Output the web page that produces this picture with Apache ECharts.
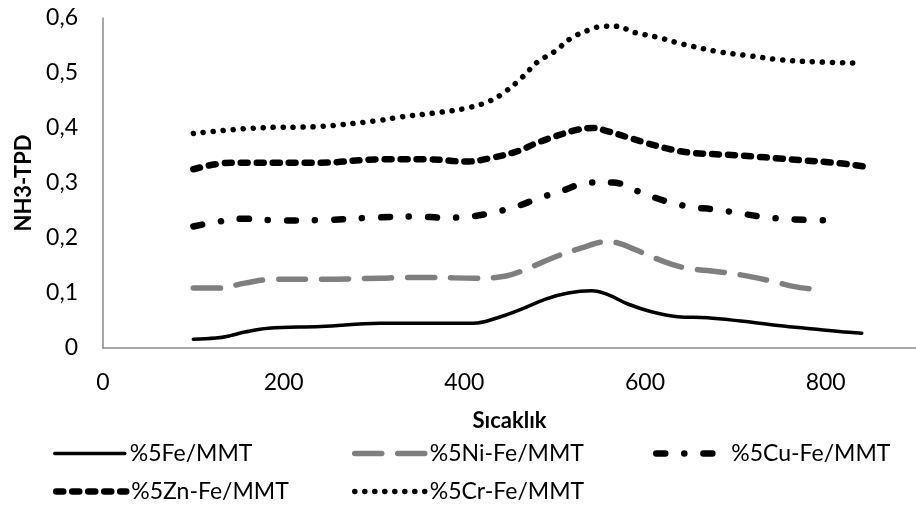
<!DOCTYPE html>
<html>
<head>
<meta charset="utf-8">
<script src="https://cdn.jsdelivr.net/npm/echarts@6/dist/echarts.min.js"></script>
<style>
  html, body { margin: 0; padding: 0; background: #fff; }
  #chart { width: 916px; height: 510px; }
</style>
</head>
<body>
<div id="chart"></div>
<script>
// NH3-TPD profiles of the Fe/MMT catalysts against temperature (Sıcaklık)
const seriesNames = ['%5Fe/MMT', '%5Ni-Fe/MMT', '%5Cu-Fe/MMT', '%5Zn-Fe/MMT', '%5Cr-Fe/MMT'];

const feT  = [100, 125, 140, 157, 183, 241, 307, 369, 410, 435, 464, 490, 515, 541, 559, 581, 607, 636, 669, 706, 742, 778, 815, 840];
const feV  = [0.016, 0.018, 0.022, 0.029, 0.036, 0.039, 0.045, 0.045, 0.045, 0.054, 0.071, 0.089, 0.100, 0.104, 0.097, 0.080, 0.066, 0.057, 0.055, 0.049, 0.042, 0.036, 0.030, 0.027];

const niT  = [100, 128, 157, 190, 241, 307, 333, 362, 413, 446, 475, 501, 530, 556, 570, 589, 610, 643, 669, 706, 742, 764, 785];
const niV  = [0.109, 0.109, 0.118, 0.125, 0.125, 0.127, 0.128, 0.128, 0.127, 0.131, 0.148, 0.166, 0.182, 0.193, 0.191, 0.179, 0.164, 0.146, 0.141, 0.133, 0.121, 0.112, 0.107];

const cuT  = [100, 129, 154, 197, 249, 298, 347, 378, 406, 431, 457, 482, 512, 537, 564, 592, 621, 649, 676, 701, 728, 753, 778, 812];
const cuV  = [0.221, 0.230, 0.235, 0.232, 0.233, 0.237, 0.239, 0.237, 0.239, 0.246, 0.257, 0.272, 0.288, 0.301, 0.301, 0.285, 0.268, 0.257, 0.252, 0.246, 0.239, 0.235, 0.233, 0.232];

const znT  = [100, 143, 169, 241, 307, 329, 362, 402, 431, 461, 479, 501, 523, 541, 559, 581, 603, 629, 651, 706, 761, 815, 843];
const znV  = [0.325, 0.337, 0.337, 0.337, 0.343, 0.343, 0.343, 0.339, 0.346, 0.359, 0.372, 0.385, 0.396, 0.400, 0.394, 0.383, 0.372, 0.361, 0.355, 0.350, 0.343, 0.336, 0.330];

const crT  = [100, 169, 241, 307, 329, 366, 402, 428, 446, 464, 481, 499, 519, 541, 554, 567, 590, 614, 638, 651, 684, 717, 750, 793, 837];
const crV  = [0.390, 0.400, 0.403, 0.414, 0.420, 0.427, 0.436, 0.449, 0.467, 0.492, 0.520, 0.538, 0.564, 0.580, 0.585, 0.585, 0.573, 0.565, 0.554, 0.549, 0.538, 0.531, 0.524, 0.520, 0.518];

const xTicks = [0, 200, 400, 600, 800];
const yTicks = [0, 0.1, 0.2, 0.3, 0.4, 0.5, 0.6];

const FONT = 'Lato';
const pairs = (xs, ys) => xs.map((x, i) => [x, ys[i]]);

// stroke styles: [colour, width, dash pattern]
const styles = [
  ['#000000', 3.5, 'solid'],
  ['#7f7f7f', 5.5, [27, 16]],
  ['#000000', 6.5, [9, 19, 0.1, 19]],
  ['#000000', 6.5, [7, 9]],
  ['#000000', 5.5, [0.1, 9.9]]
];

function lineSeries(idx, xs, ys) {
  const [color, width, dash] = styles[idx];
  return {
    name: seriesNames[idx],
    type: 'line',
    data: pairs(xs, ys),
    showSymbol: false,
    symbol: 'none',
    smooth: 0.4,
    lineStyle: { color: color, width: width, type: dash, cap: 'round', join: 'round' },
    itemStyle: { color: color },
    emphasis: { disabled: true },
    animation: false
  };
}

function legendAt(idx, left, top) {
  const [color, width, dash] = styles[idx];
  return {
    show: true,
    orient: 'horizontal',
    data: [seriesNames[idx]],
    left: left,
    top: top,
    padding: 0,
    itemWidth: 70,
    itemHeight: 16,
    itemGap: 0,
    selectedMode: false,
    itemStyle: { color: 'rgba(0,0,0,0)', borderColor: 'rgba(0,0,0,0)', borderWidth: 0 },
    lineStyle: { color: color, width: width, type: dash, cap: 'round' },
    textStyle: { fontFamily: FONT, fontSize: 23, color: '#000' }
  };
}

const chart = echarts.init(document.getElementById('chart'), null, { renderer: 'canvas' });
chart.setOption({
  backgroundColor: '#fff',
  animation: false,
  grid: { left: 103, right: -8, top: 18, bottom: 162, containLabel: false },
  xAxis: {
    type: 'value',
    min: xTicks[0],
    max: 900,
    interval: 200,
    name: 'Sıcaklık',
    nameLocation: 'middle',
    nameGap: 62,
    nameTextStyle: { fontFamily: FONT, fontSize: 22, fontWeight: 'bold', color: '#000' },
    axisLine: { show: true, lineStyle: { color: '#898989', width: 1.5 } },
    axisTick: { show: false },
    splitLine: { show: false },
    axisLabel: {
      fontFamily: FONT, fontSize: 23, color: '#000', margin: 23,
      showMaxLabel: false,
      formatter: v => (xTicks.indexOf(v) >= 0 ? String(v) : '')
    }
  },
  yAxis: {
    type: 'value',
    min: yTicks[0],
    max: yTicks[yTicks.length - 1],
    interval: 0.1,
    name: 'NH3-TPD',
    nameLocation: 'middle',
    nameGap: 68,
    nameTextStyle: { fontFamily: FONT, fontSize: 22, fontWeight: 'bold', color: '#000' },
    axisLine: { show: true, lineStyle: { color: '#898989', width: 1.5 } },
    axisTick: { show: false },
    splitLine: { show: false },
    axisLabel: {
      fontFamily: FONT, fontSize: 23, color: '#000', margin: 25,
      formatter: v => (v === 0 ? '0' : v.toFixed(1).replace('.', ','))
    }
  },
  legend: [
    legendAt(0, 53, 442),
    legendAt(1, 352, 442),
    legendAt(2, 653, 442),
    legendAt(3, 53, 480),
    legendAt(4, 352, 480)
  ],
  series: [
    lineSeries(0, feT, feV),
    lineSeries(1, niT, niV),
    lineSeries(2, cuT, cuV),
    lineSeries(3, znT, znV),
    lineSeries(4, crT, crV)
  ]
});
</script>
</body>
</html>
